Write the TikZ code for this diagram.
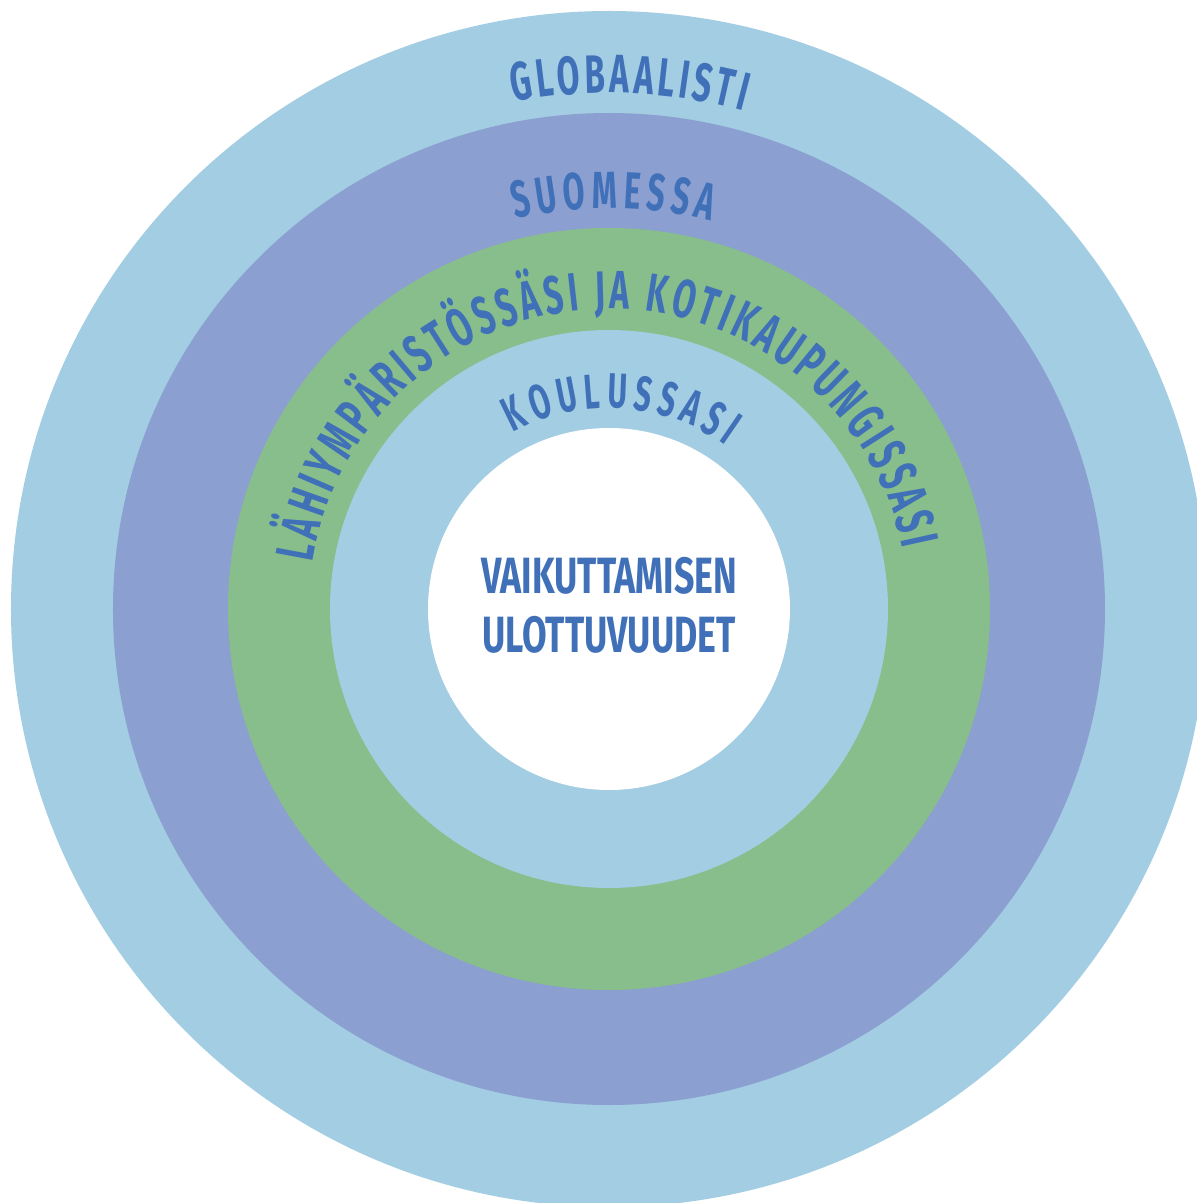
\documentclass[tikz,border=0pt]{standalone}
\usepackage{fontspec}
\newfontfamily\condfont[FakeStretch=0.61]{Fira Sans}
\newfontfamily\centerfont[FakeStretch=0.7]{Fira Sans}
\usetikzlibrary{decorations.text}
\definecolor{ringblue}{HTML}{A2CDE2}
\definecolor{ringpurple}{HTML}{8B9FD0}
\definecolor{ringgreen}{HTML}{88BE8B}
\definecolor{txtblue}{HTML}{4070B8}
\tikzset{
  ringlabel/.style 2 args={decorate, font=\condfont\bfseries\fontsize{#1}{#1}\selectfont,
    decoration={text along path, text align={fit to path},
      text={|\condfont\bfseries\fontsize{#1}{#1}\selectfont\color{txtblue}|#2}}},
  centerlabel/.style={inner sep=0pt, text=txtblue, font=\centerfont\bfseries\fontsize{51}{51}\selectfont}
}
\begin{document}
\begin{tikzpicture}[x=1pt,y=1pt]
\useasboundingbox (-609,-594) rectangle (588,609);
\clip (-609,-594) rectangle (588,609);
\fill[ringblue] (0,0) circle[radius=598];
\fill[ringpurple] (0,0) circle[radius=496];
\fill[ringgreen] (0,0) circle[radius=381];
\fill[ringblue] (0,0) circle[radius=279];
\fill[white] (0,0) circle[radius=181];
\path[ringlabel={54}{GLOBAALISTI}]
  (100.7:516) arc[start angle=100.7, end angle=74.9, radius=516];
\path[ringlabel={52}{SUOMESSA}]
  (103.5:401) arc[start angle=103.5, end angle=75.3, radius=401];
\path[ringlabel={54}{LÄHIYMPÄRISTÖSSÄSI JA KOTIKAUPUNGISSASI}]
  (171:300) arc[start angle=171, end angle=11.5, radius=300];
\path[ringlabel={49}{KOULUSSASI}]
  (118.5:201) arc[start angle=118.5, end angle=54.4, radius=201];
\node[centerlabel] (line1) at (0,33.5) {VAIKUTTAMISEN};
\node[centerlabel] (line2) at (0,-26) {ULOTTUVUUDET};
\end{tikzpicture}
\end{document}
